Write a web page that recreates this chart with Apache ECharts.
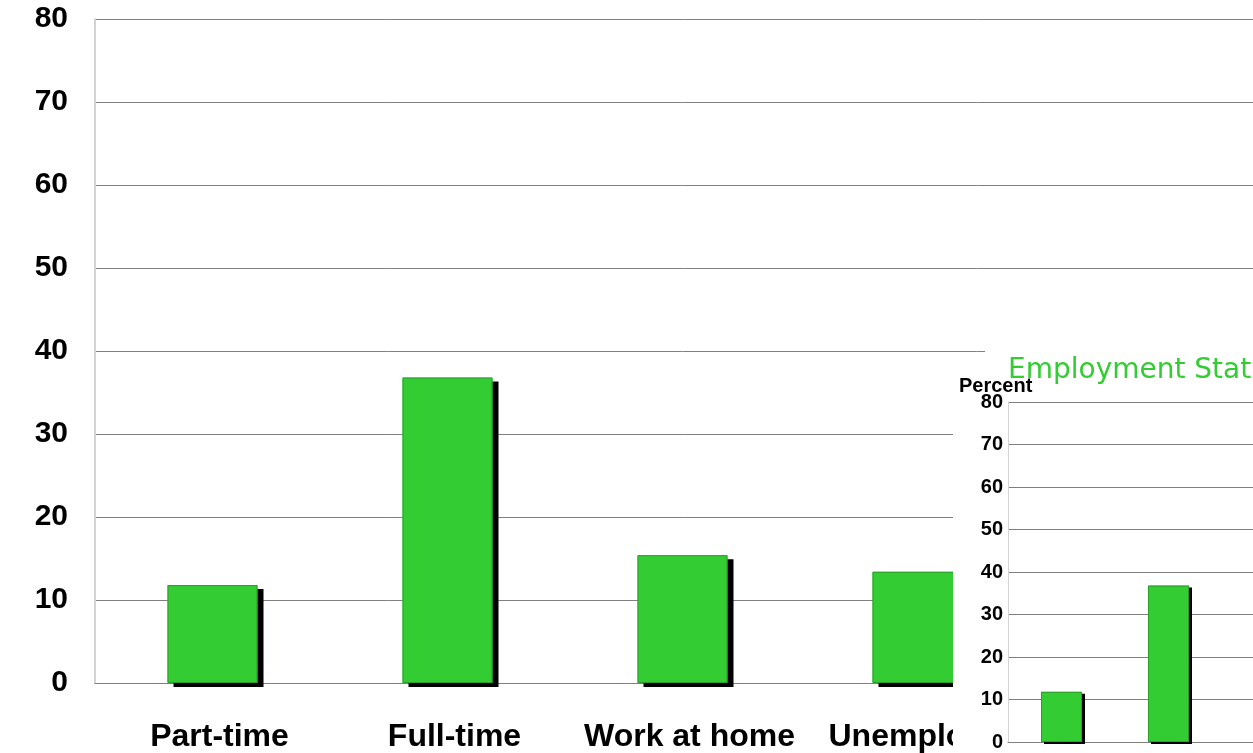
<!DOCTYPE html>
<html>
<head>
<meta charset="utf-8">
<script src="https://cdn.jsdelivr.net/npm/echarts@6/dist/echarts.min.js"></script>
<style>
  html, body { margin: 0; padding: 0; overflow: hidden; background: #fff; width: 1253px; height: 753px; }
  #main { position: absolute; left: 0; top: 0; width: 1300px; height: 753px; }
  #inset {
    position: absolute; left: 953px; top: 345px; width: 600px; height: 440px; background: #fff;
    clip-path: polygon(0 8px, 32px 8px, 32px 0, 100% 0, 100% 100%, 0 100%);
  }
</style>
</head>
<body>
<div id="main"></div>
<div id="inset"></div>
<script>
// employment status, percent of respondents (last slot is off the picture)
const categories = ["Part-time", "Full-time", "Work at home", "Unemployed", ""];
const percent = [11.8, 36.8, 15.4, 13.4];
const yMin = 0, yMax = 80, yStep = 10;

const GREEN = "#33cc33";
const GRID_GRAY = "#808080";
const FONT = "'Liberation Sans', Arial, sans-serif";

// two series drawn in the same slot: the lower one casts the hard black shadow,
// the upper one draws the thin darker outline without a shadow
function bars(width, dx, dy) {
  return [
    {
      type: "bar",
      data: percent,
      barWidth: width,
      itemStyle: { color: GREEN, shadowColor: "#000", shadowBlur: 0, shadowOffsetX: dx, shadowOffsetY: dy },
      silent: true
    },
    {
      type: "bar",
      data: percent,
      barWidth: width,
      barGap: "-100%",
      itemStyle: { color: GREEN, borderColor: "#2a9f2a", borderWidth: 1 },
      silent: true
    }
  ];
}

const main = echarts.init(document.getElementById("main"));
main.setOption({
  animation: false,
  grid: { left: 95, top: 19, right: 30, bottom: 70 },
  xAxis: {
    type: "category",
    data: categories,
    axisLine: { lineStyle: { color: GRID_GRAY, width: 1 } },
    axisTick: { show: false },
    axisLabel: {
      color: "#000", fontFamily: FONT, fontWeight: "bold", fontSize: 32, margin: 38, interval: 0,
      padding: [0, 0, 0, 14]
    }
  },
  yAxis: {
    type: "value",
    min: yMin, max: yMax, interval: yStep,
    axisLine: { show: true, lineStyle: { color: "#d4d4d4", width: 2 } },
    axisTick: { show: false },
    splitLine: { lineStyle: { color: GRID_GRAY, width: 1 } },
    axisLabel: { color: "#000", fontFamily: FONT, fontWeight: "bold", fontSize: 30, margin: 27, padding: [9, 0, 0, 0] }
  },
  series: bars(90, 6, 4)
});

const inset = echarts.init(document.getElementById("inset"));
inset.setOption({
  animation: false,
  title: {
    text: "Employment Status",
    left: 50, top: 7,
    textStyle: { color: GREEN, fontFamily: "'DejaVu Sans', sans-serif", fontWeight: "normal", fontSize: 28 }
  },
  graphic: [{
    type: "text", left: 6, top: 31,
    style: { text: "Percent", fill: "#000", font: "bold 20px " + FONT }
  }],
  grid: { left: 55, top: 57, right: 10, bottom: 43 },
  xAxis: {
    type: "category",
    data: categories,
    axisLine: { lineStyle: { color: GRID_GRAY, width: 1 } },
    axisTick: { show: false },
    axisLabel: { color: "#000", fontFamily: FONT, fontWeight: "bold", fontSize: 14, margin: 14, interval: 0 }
  },
  yAxis: {
    type: "value",
    min: yMin, max: yMax, interval: yStep,
    axisLine: { show: true, lineStyle: { color: "#d4d4d4", width: 1 } },
    axisTick: { show: false },
    splitLine: { lineStyle: { color: GRID_GRAY, width: 1 } },
    axisLabel: { color: "#000", fontFamily: FONT, fontWeight: "bold", fontSize: 20, margin: 5, padding: [6, 0, 0, 0] }
  },
  series: bars(41, 3, 2)
});
</script>
</body>
</html>
